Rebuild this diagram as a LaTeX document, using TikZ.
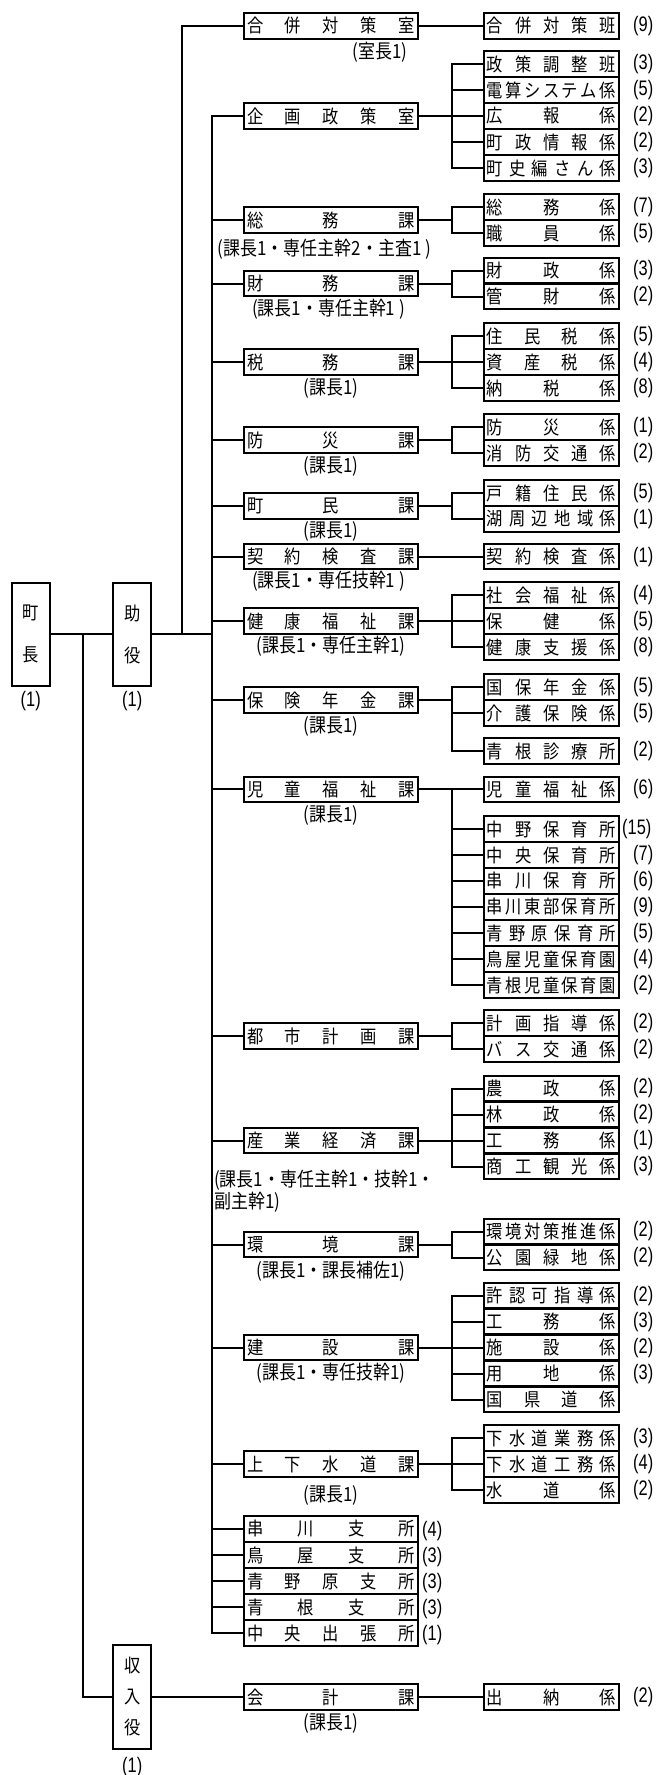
\documentclass[tikz,border=0pt]{standalone}
\usepackage{fontspec}
\newfontfamily\jp[FakeStretch=0.88]{Noto Sans CJK JP}
\newfontfamily\jl[FakeStretch=0.87]{Noto Sans CJK JP}
\newfontfamily\nm[FakeStretch=0.78]{Liberation Sans}
\def\jspA#1#2\jspE{#1\ifx\relax#2\relax\else\hfill\jspA#2\jspE\fi}
\newcommand\jsp[2]{\hbox to #1{\jspA#2\jspE}}
\newcommand\dtxt[1]{\jsp{168pt}{#1}}
\newcommand\stxt[1]{\jsp{129pt}{#1}}
\tikzset{
 box/.style={draw, line width=2pt, inner sep=0pt, font=\jp\fontsize{18.5}{20}\selectfont},
 dept/.style={box, minimum width=173.6, minimum height=25.5},
 sub/.style={box, minimum width=134.7, minimum height=25.5},
 vbox/.style={draw, line width=2pt, inner sep=0pt, minimum width=38, align=center},
 lbl/.style={font=\jl\fontsize{19.5}{21}\selectfont, inner sep=0pt},
 num/.style={font=\nm\fontsize{21}{24}\selectfont, inner sep=0pt, anchor=west},
 ln/.style={line width=2pt},
}
\begin{document}
\begin{tikzpicture}[x=1pt,y=-1pt]
\useasboundingbox[fill=white] (0,0) rectangle (663,1775);
% top level
\node[vbox, minimum height=103, font=\jp\fontsize{18.5}{41.6}\selectfont] (chou) at (30.7,634.2) {町\\長};
\node[vbox, minimum height=103, font=\jp\fontsize{18.5}{41.6}\selectfont] (joyaku) at (132.2,634.2) {助\\役};
\node[vbox, minimum height=104, font=\jp\fontsize{18.5}{31}\selectfont] (shunyu) at (132.2,1697) {収\\入\\役};
\node[num, anchor=center] (nChou) at (30.7,701) {(1)};
\node[num, anchor=center] (nJoyaku) at (132.2,701) {(1)};
\node[num, anchor=center] (nShunyu) at (132.2,1767) {(1)};
\coordinate (jA) at (82.5,634.2);
\coordinate (jB) at (182,634.2);
\coordinate (jC) at (211.5,634.2);
\coordinate (jx) at (451.8,0);
% departments
\node[dept] (dGappei) at (331,26) {\dtxt{合併対策室}};
\node[dept] (dKikaku) at (331,116) {\dtxt{企画政策室}};
\node[dept] (dSomu) at (331,220) {\dtxt{総務課}};
\node[dept] (dZaimu) at (331,283.5) {\dtxt{財務課}};
\node[dept] (dZei) at (331,362) {\dtxt{税務課}};
\node[dept] (dBosai) at (331,440) {\dtxt{防災課}};
\node[dept] (dChomin) at (331,506) {\dtxt{町民課}};
\node[dept] (dKeiyaku) at (331,556.7) {\dtxt{契約検査課}};
\node[dept] (dKenko) at (331,621) {\dtxt{健康福祉課}};
\node[dept] (dHoken) at (331,700) {\dtxt{保険年金課}};
\node[dept] (dJido) at (331,789.3) {\dtxt{児童福祉課}};
\node[dept] (dToshi) at (331,1036) {\dtxt{都市計画課}};
\node[dept] (dSangyo) at (331,1140.5) {\dtxt{産業経済課}};
\node[dept] (dKankyo) at (331,1244.5) {\dtxt{環境課}};
\node[dept] (dKensetsu) at (331,1347.7) {\dtxt{建設課}};
\node[dept] (dJoge) at (331,1464) {\dtxt{上下水道課}};
\node[dept] (bKushi) at (331,1529) {\dtxt{串川支所}};
\node[dept] (bToya) at (331,1555) {\dtxt{鳥屋支所}};
\node[dept] (bAono) at (331,1581) {\dtxt{青野原支所}};
\node[dept] (bAone) at (331,1607) {\dtxt{青根支所}};
\node[dept] (bChuo) at (331,1633) {\dtxt{中央出張所}};
\node[dept] (dKaikei) at (331,1697) {\dtxt{会計課}};
% branch numbers
\node[num] (nbKushi) at (422,1531) {(4)};
\node[num] (nbToya) at (422,1557) {(3)};
\node[num] (nbAono) at (422,1583) {(3)};
\node[num] (nbAone) at (422,1609) {(3)};
\node[num] (nbChuo) at (422,1635) {(1)};
% department labels
\node[lbl] (lGappei) at (380,52) {(室長1)};
\node[lbl] (lSomu) at (324.5,249) {(課長1・専任主幹2・主査1 )};
\node[lbl] (lZaimu) at (328.5,309) {(課長1・専任主幹1 )};
\node[lbl] (lZei) at (331,388) {(課長1)};
\node[lbl] (lBosai) at (331,466.5) {(課長1)};
\node[lbl] (lChomin) at (331,531.5) {(課長1)};
\node[lbl] (lKeiyaku) at (328.5,581.7) {(課長1・専任技幹1 )};
\node[lbl] (lKenko) at (331,646.7) {(課長1・専任主幹1)};
\node[lbl] (lHoken) at (331,726.7) {(課長1)};
\node[lbl] (lJido) at (331,815) {(課長1)};
\node[lbl, align=left, anchor=west, font=\jl\fontsize{19.5}{19.3}\selectfont] (lSangyo) at (214,1191.3) {(課長1・専任主幹1・技幹1・\\副主幹1)};
\node[lbl] (lKankyo) at (331,1271.7) {(課長1・課長補佐1)};
\node[lbl] (lKensetsu) at (331,1373.3) {(課長1・専任技幹1)};
\node[lbl] (lJoge) at (331,1495) {(課長1)};
\node[lbl] (lKaikei) at (331,1723.3) {(課長1)};
% sections
\def\sx{551.35}
\def\nx{633}
\node[sub] (sGappei) at (\sx,26) {\stxt{合併対策班}}; \node[num] (nGappei) at (\nx,26) {(9)};
\node[sub] (sK1) at (\sx,64) {\stxt{政策調整班}}; \node[num] (nK1) at (\nx,64) {(3)};
\node[sub] (sK2) at (\sx,90) {\stxt{電算システム係}}; \node[num] (nK2) at (\nx,90) {(5)};
\node[sub] (sK3) at (\sx,116) {\stxt{広報係}}; \node[num] (nK3) at (\nx,116) {(2)};
\node[sub] (sK4) at (\sx,142) {\stxt{町政情報係}}; \node[num] (nK4) at (\nx,142) {(2)};
\node[sub] (sK5) at (\sx,168) {\stxt{町史編さん係}}; \node[num] (nK5) at (\nx,168) {(3)};
\node[sub] (sS1) at (\sx,207) {\stxt{総務係}}; \node[num] (nS1) at (\nx,207) {(7)};
\node[sub] (sS2) at (\sx,233) {\stxt{職員係}}; \node[num] (nS2) at (\nx,233) {(5)};
\node[sub] (sZ1) at (\sx,270.5) {\stxt{財政係}}; \node[num] (nZ1) at (\nx,270.5) {(3)};
\node[sub] (sZ2) at (\sx,296.5) {\stxt{管財係}}; \node[num] (nZ2) at (\nx,296.5) {(2)};
\node[sub] (sT1) at (\sx,336) {\stxt{住民税係}}; \node[num] (nT1) at (\nx,336) {(5)};
\node[sub] (sT2) at (\sx,362) {\stxt{資産税係}}; \node[num] (nT2) at (\nx,362) {(4)};
\node[sub] (sT3) at (\sx,388) {\stxt{納税係}}; \node[num] (nT3) at (\nx,388) {(8)};
\node[sub] (sB1) at (\sx,427) {\stxt{防災係}}; \node[num] (nB1) at (\nx,427) {(1)};
\node[sub] (sB2) at (\sx,453) {\stxt{消防交通係}}; \node[num] (nB2) at (\nx,453) {(2)};
\node[sub] (sC1) at (\sx,493) {\stxt{戸籍住民係}}; \node[num] (nC1) at (\nx,493) {(5)};
\node[sub] (sC2) at (\sx,519) {\stxt{湖周辺地域係}}; \node[num] (nC2) at (\nx,519) {(1)};
\node[sub] (sKe) at (\sx,556.7) {\stxt{契約検査係}}; \node[num] (nKe) at (\nx,556.7) {(1)};
\node[sub] (sH1) at (\sx,595) {\stxt{社会福祉係}}; \node[num] (nH1) at (\nx,595) {(4)};
\node[sub] (sH2) at (\sx,621) {\stxt{保健係}}; \node[num] (nH2) at (\nx,621) {(5)};
\node[sub] (sH3) at (\sx,647) {\stxt{健康支援係}}; \node[num] (nH3) at (\nx,647) {(8)};
\node[sub] (sN1) at (\sx,687) {\stxt{国保年金係}}; \node[num] (nN1) at (\nx,687) {(5)};
\node[sub] (sN2) at (\sx,713) {\stxt{介護保険係}}; \node[num] (nN2) at (\nx,713) {(5)};
\node[sub] (sN3) at (\sx,751) {\stxt{青根診療所}}; \node[num] (nN3) at (\nx,751) {(2)};
\node[sub] (sJ0) at (\sx,789.3) {\stxt{児童福祉係}}; \node[num] (nJ0) at (\nx,789.3) {(6)};
\node[sub] (sJ1) at (\sx,829) {\stxt{中野保育所}}; \node[num] (nJ1) at (622,829) {(15)};
\node[sub] (sJ2) at (\sx,855) {\stxt{中央保育所}}; \node[num] (nJ2) at (\nx,855) {(7)};
\node[sub] (sJ3) at (\sx,881) {\stxt{串川保育所}}; \node[num] (nJ3) at (\nx,881) {(6)};
\node[sub] (sJ4) at (\sx,907) {\stxt{串川東部保育所}}; \node[num] (nJ4) at (\nx,907) {(9)};
\node[sub] (sJ5) at (\sx,933) {\stxt{青野原保育所}}; \node[num] (nJ5) at (\nx,933) {(5)};
\node[sub] (sJ6) at (\sx,959) {\stxt{鳥屋児童保育園}}; \node[num] (nJ6) at (\nx,959) {(4)};
\node[sub] (sJ7) at (\sx,985) {\stxt{青根児童保育園}}; \node[num] (nJ7) at (\nx,985) {(2)};
\node[sub] (sU1) at (\sx,1023) {\stxt{計画指導係}}; \node[num] (nU1) at (\nx,1023) {(2)};
\node[sub] (sU2) at (\sx,1049) {\stxt{バス交通係}}; \node[num] (nU2) at (\nx,1049) {(2)};
\node[sub] (sG1) at (\sx,1088.5) {\stxt{農政係}}; \node[num] (nG1) at (\nx,1088.5) {(2)};
\node[sub] (sG2) at (\sx,1114.5) {\stxt{林政係}}; \node[num] (nG2) at (\nx,1114.5) {(2)};
\node[sub] (sG3) at (\sx,1140.5) {\stxt{工務係}}; \node[num] (nG3) at (\nx,1140.5) {(1)};
\node[sub] (sG4) at (\sx,1166.5) {\stxt{商工観光係}}; \node[num] (nG4) at (\nx,1166.5) {(3)};
\node[sub] (sE1) at (\sx,1231.5) {\stxt{環境対策推進係}}; \node[num] (nE1) at (\nx,1231.5) {(2)};
\node[sub] (sE2) at (\sx,1257.5) {\stxt{公園緑地係}}; \node[num] (nE2) at (\nx,1257.5) {(2)};
\node[sub] (sW1) at (\sx,1295.7) {\stxt{許認可指導係}}; \node[num] (nW1) at (\nx,1295.7) {(2)};
\node[sub] (sW2) at (\sx,1321.7) {\stxt{工務係}}; \node[num] (nW2) at (\nx,1321.7) {(3)};
\node[sub] (sW3) at (\sx,1347.7) {\stxt{施設係}}; \node[num] (nW3) at (\nx,1347.7) {(2)};
\node[sub] (sW4) at (\sx,1373.7) {\stxt{用地係}}; \node[num] (nW4) at (\nx,1373.7) {(3)};
\node[sub] (sW5) at (\sx,1399.7) {\stxt{国県道係}};
\node[sub] (sV1) at (\sx,1438) {\stxt{下水道業務係}}; \node[num] (nV1) at (\nx,1438) {(3)};
\node[sub] (sV2) at (\sx,1464) {\stxt{下水道工務係}}; \node[num] (nV2) at (\nx,1464) {(4)};
\node[sub] (sV3) at (\sx,1490) {\stxt{水道係}}; \node[num] (nV3) at (\nx,1490) {(2)};
\node[sub] (sSuito) at (\sx,1697) {\stxt{出納係}}; \node[num] (nSuito) at (\nx,1697) {(2)};
% ---- connectors ----
\draw[ln] (chou) -- (joyaku);
\draw[ln] (joyaku.east) -- (jC);
\draw[ln] (jA) |- (shunyu.west);
\draw[ln] (jB) |- (dGappei.west);
\draw[ln] (dKikaku.west) -| (bChuo.west -| jC) -- (bChuo.west);
\foreach \d in {dSomu,dZaimu,dZei,dBosai,dChomin,dKeiyaku,dKenko,dHoken,dJido,dToshi,dSangyo,dKankyo,dKensetsu,dJoge,bKushi,bToya,bAono,bAone}
  \draw[ln] (\d.west) -- (\d.west -| jC);
\draw[ln] (shunyu) -- (dKaikei);
\draw[ln] (dKaikei) -- (sSuito);
\draw[ln] (dGappei) -- (sGappei);
\draw[ln] (dKeiyaku) -- (sKe);
\draw[ln] (dJido) -- (sJ0);
% groups: dept stub to junction
\foreach \d in {dKikaku,dSomu,dZaimu,dZei,dBosai,dChomin,dKenko,dHoken,dToshi,dSangyo,dKankyo,dKensetsu,dJoge}
  \draw[ln] (\d.east) -- (\d.east -| jx);
% vertical junctions (first -| last)
\draw[ln] (sK1.west) -| (sK5.west -| jx) -- (sK5.west);
\draw[ln] (sS1.west) -| (sS2.west -| jx) -- (sS2.west);
\draw[ln] (sZ1.west) -| (sZ2.west -| jx) -- (sZ2.west);
\draw[ln] (sT1.west) -| (sT3.west -| jx) -- (sT3.west);
\draw[ln] (sB1.west) -| (sB2.west -| jx) -- (sB2.west);
\draw[ln] (sC1.west) -| (sC2.west -| jx) -- (sC2.west);
\draw[ln] (sH1.west) -| (sH3.west -| jx) -- (sH3.west);
\draw[ln] (sN1.west) -| (sN3.west -| jx) -- (sN3.west);
\draw[ln] (sJ0.west -| jx) |- (sJ7.west);
\draw[ln] (sU1.west) -| (sU2.west -| jx) -- (sU2.west);
\draw[ln] (sG1.west) -| (sG4.west -| jx) -- (sG4.west);
\draw[ln] (sE1.west) -| (sE2.west -| jx) -- (sE2.west);
\draw[ln] (sW1.west) -| (sW5.west -| jx) -- (sW5.west);
\draw[ln] (sV1.west) -| (sV3.west -| jx) -- (sV3.west);
% middle stubs
\foreach \s in {sK2,sK3,sK4,sT2,sH2,sN2,sJ1,sJ2,sJ3,sJ4,sJ5,sJ6,sG2,sG3,sW2,sW3,sW4,sV2}
  \draw[ln] (\s.west) -- (\s.west -| jx);
\end{tikzpicture}
\end{document}
